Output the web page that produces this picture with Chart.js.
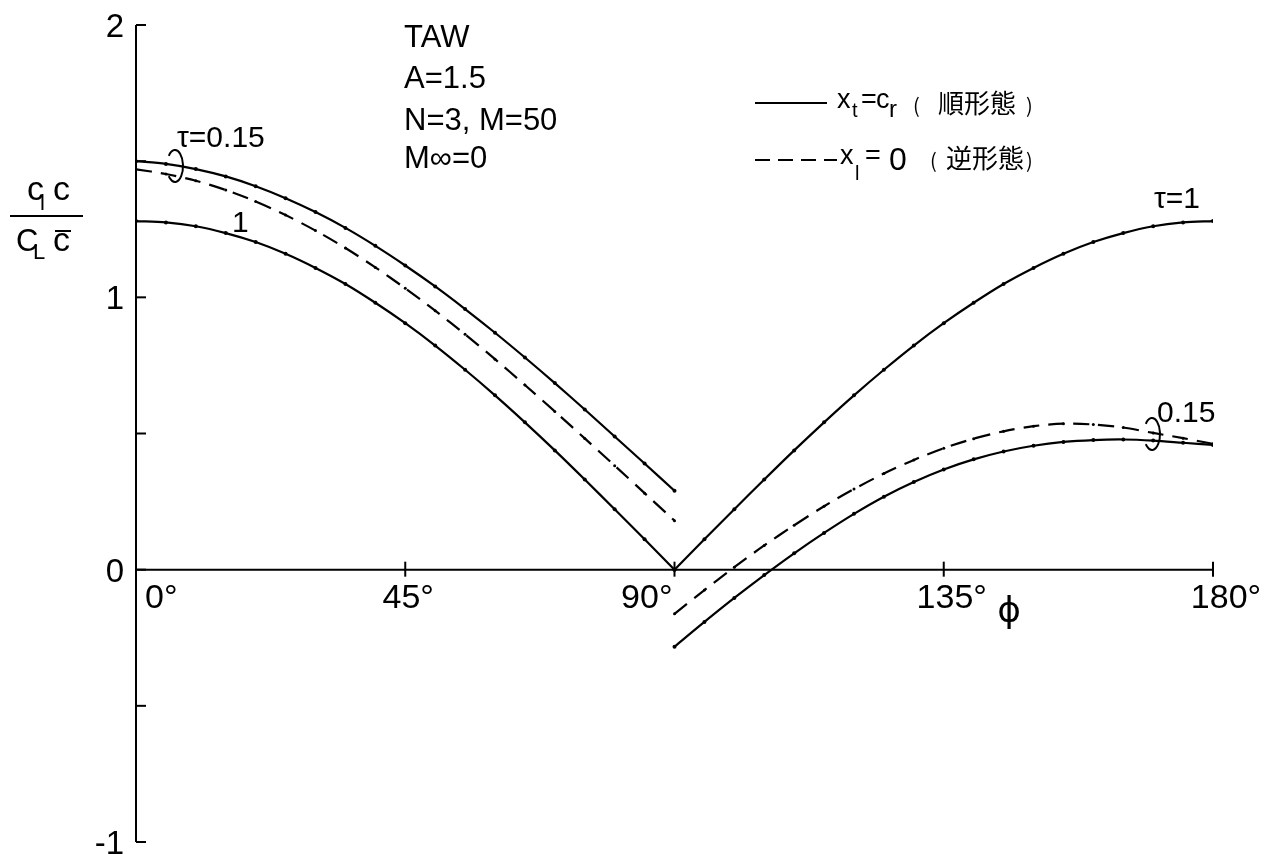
<!DOCTYPE html>
<html>
<head>
<meta charset="utf-8">
<title>TAW spanwise loading</title>
<script src="https://cdn.jsdelivr.net/npm/chart.js@4.4.1/dist/chart.umd.min.js"></script>
<style>
  html, body { margin: 0; padding: 0; background: #fff; }
  canvas { display: block; }
</style>
</head>
<body>
<canvas id="loadChart" width="1271" height="854"></canvas>
<script>
// phi in degrees, two branches split at 90 deg
const phiLeft = [0, 5, 10, 15, 20, 25, 30, 35, 40, 45, 50, 55, 60, 65, 70, 75, 80, 85, 90];
const phiRight = [90, 95, 100, 105, 110, 115, 120, 125, 130, 135, 140, 145, 150, 155, 160, 165, 170, 175, 180];

// tau = 1
const tau1Left = [1.280, 1.275, 1.261, 1.236, 1.203, 1.160, 1.108, 1.049, 0.980, 0.905, 0.823, 0.734, 0.640, 0.541, 0.438, 0.331, 0.222, 0.112, 0.000];
const tau1Right = [0.000, 0.112, 0.222, 0.331, 0.438, 0.541, 0.640, 0.734, 0.823, 0.905, 0.980, 1.049, 1.108, 1.160, 1.203, 1.236, 1.261, 1.275, 1.280];

// tau = 0.15, x_t = c_r (solid)
const tau015SolidLeft = [1.500, 1.490, 1.471, 1.444, 1.408, 1.364, 1.313, 1.255, 1.189, 1.117, 1.040, 0.957, 0.870, 0.779, 0.685, 0.588, 0.489, 0.390, 0.290];
const tau015SolidRight = [-0.283, -0.192, -0.104, -0.020, 0.060, 0.135, 0.205, 0.268, 0.322, 0.368, 0.405, 0.434, 0.455, 0.469, 0.476, 0.478, 0.474, 0.466, 0.458];

// tau = 0.15, x_l = 0 (dashed)
const tau015DashedLeft = [1.470, 1.453, 1.428, 1.394, 1.352, 1.302, 1.245, 1.181, 1.110, 1.033, 0.951, 0.864, 0.773, 0.678, 0.581, 0.482, 0.382, 0.281, 0.180];
const tau015DashedRight = [-0.162, -0.075, 0.009, 0.089, 0.163, 0.233, 0.296, 0.353, 0.403, 0.446, 0.481, 0.508, 0.527, 0.536, 0.533, 0.522, 0.502, 0.483, 0.462];

const xTicks = [0, 45, 90, 135, 180];
const yTicks = [2, 1.5, 1, 0.5, 0, -0.5, -1];
const yTickLabels = ['2', '', '1', '', '0', '', '-1'];

const LATIN = '"Liberation Sans", Arial, sans-serif';
const CJK = '"Noto Sans CJK JP", "Noto Sans CJK SC", sans-serif';
const INK = '#000';

function toPoints(xs, ys) {
    return xs.map((x, i) => ({ x: x, y: ys[i] }));
}

function curve(xs, ys, dashed) {
    return {
        data: toPoints(xs, ys),
        borderColor: INK,
        borderWidth: 2.2,
        borderDash: dashed ? [16, 9] : [],
        pointRadius: dashed ? 1.5 : 2,
        pointBackgroundColor: INK,
        pointBorderWidth: 0,
        tension: 0.3,
        fill: false
    };
}

function text(ctx, str, x, y, size, align, family) {
    ctx.font = size + 'px ' + (family || LATIN);
    ctx.textAlign = align || 'left';
    ctx.textBaseline = 'alphabetic';
    ctx.fillText(str, x, y);
}

function line(ctx, x1, y1, x2, y2, width) {
    ctx.beginPath();
    ctx.lineWidth = width || 2;
    ctx.moveTo(x1, y1);
    ctx.lineTo(x2, y2);
    ctx.stroke();
}

// open-left bracket that groups the two tau=0.15 curves
function bracket(ctx, cx, cy) {
    ctx.beginPath();
    ctx.lineWidth = 2;
    ctx.ellipse(cx, cy, 8, 16, 0, -0.78 * Math.PI, 0.78 * Math.PI);
    ctx.stroke();
}

const paperAxes = {
    id: 'paperAxes',
    beforeDatasetsDraw(chart) {
        const { ctx, scales: { x, y } } = chart;
        ctx.save();
        ctx.strokeStyle = INK;
        ctx.lineCap = 'butt';

        const x0 = x.getPixelForValue(0);
        const y0 = y.getPixelForValue(0);

        // vertical axis with inward ticks
        line(ctx, x0, y.getPixelForValue(2), x0, y.getPixelForValue(-1), 2);
        yTicks.forEach(v => {
            const py = y.getPixelForValue(v);
            line(ctx, x0, py, x0 + 10, py, 2);
        });

        // phi axis along zero
        line(ctx, x0, y0, x.getPixelForValue(180), y0, 2);
        xTicks.slice(1).forEach(v => {
            const px = x.getPixelForValue(v);
            line(ctx, px, y0 - 8, px, y0 + 7, 2);
        });
        ctx.restore();
    },
    afterDraw(chart) {
        const { ctx, scales: { x, y } } = chart;
        ctx.save();
        ctx.fillStyle = INK;
        ctx.strokeStyle = INK;

        // y tick labels
        yTicks.forEach((v, i) => {
            if (!yTickLabels[i]) return;
            const py = y.getPixelForValue(v);
            text(ctx, yTickLabels[i], 124, py + 12, 33, 'right');
        });

        // phi tick labels
        const base = y.getPixelForValue(0) + 38;
        text(ctx, xTicks[0] + '°', x.getPixelForValue(0) + 9, base, 34, 'left');
        text(ctx, xTicks[1] + '°', x.getPixelForValue(45) + 3, base, 34, 'center');
        text(ctx, xTicks[2] + '°', x.getPixelForValue(90) - 2, base, 34, 'right');
        text(ctx, xTicks[3] + '°', x.getPixelForValue(135) + 8, base, 34, 'center');
        text(ctx, xTicks[4] + '°', x.getPixelForValue(180) + 13, base, 34, 'center');
        text(ctx, 'ϕ', 1009, 622, 36, 'center', '"DejaVu Sans", sans-serif');

        // ordinate title  c_l c / C_L c-bar
        text(ctx, 'c', 27, 200, 34);
        text(ctx, 'l', 40, 210, 22);
        text(ctx, 'c', 53, 200, 34);
        line(ctx, 10, 216, 83, 216, 2);
        text(ctx, 'C', 16, 251, 31);
        text(ctx, 'L', 33, 259, 22);
        text(ctx, 'c', 53, 251, 34);
        line(ctx, 55, 231, 71, 231, 2);

        // case block
        text(ctx, 'TAW', 404, 47, 31);
        text(ctx, 'A=1.5', 404, 88, 31);
        text(ctx, 'N=3, M=50', 404, 130, 31);
        text(ctx, 'M∞=0', 404, 168, 31);

        // curve labels
        text(ctx, 'τ=0.15', 177, 147, 30);
        bracket(ctx, 175, 166);
        text(ctx, '1', 232, 232, 30);
        text(ctx, 'τ=1', 1154, 208, 30);
        text(ctx, '0.15', 1157, 422, 30);
        bracket(ctx, 1152, 434);

        // legend: solid x_t = c_r
        line(ctx, 755, 103, 827, 103, 2);
        text(ctx, 'x', 837, 108, 27);
        text(ctx, 't', 852, 117, 20);
        text(ctx, '=', 861, 108, 27);
        text(ctx, 'c', 876, 108, 27);
        text(ctx, 'r', 889, 117, 24);
        text(ctx, '(', 913, 113, 20, 'left', CJK);
        text(ctx, '順形態', 938, 113, 26, 'left', CJK);
        text(ctx, ')', 1026, 113, 20, 'left', CJK);

        // legend: dashed x_l = 0
        ctx.save();
        ctx.setLineDash([15, 8]);
        line(ctx, 755, 160, 837, 160, 2);
        ctx.restore();
        text(ctx, 'x', 840, 164, 27);
        text(ctx, 'l', 855, 180, 20);
        text(ctx, '=', 865, 164, 27);
        text(ctx, '0', 889, 170, 32);
        text(ctx, '(', 930, 168, 20, 'left', CJK);
        text(ctx, '逆形態', 946, 168, 26, 'left', CJK);
        text(ctx, ')', 1026, 168, 20, 'left', CJK);

        ctx.restore();
    }
};

new Chart(document.getElementById('loadChart').getContext('2d'), {
    type: 'line',
    data: {
        datasets: [
            curve(phiLeft, tau1Left, false),
            curve(phiRight, tau1Right, false),
            curve(phiLeft, tau015SolidLeft, false),
            curve(phiRight, tau015SolidRight, false),
            curve(phiLeft, tau015DashedLeft, true),
            curve(phiRight, tau015DashedRight, true)
        ]
    },
    options: {
        responsive: false,
        animation: false,
        layout: { padding: { left: 136, right: 58, top: 25, bottom: 12 } },
        scales: {
            x: { type: 'linear', min: 0, max: 180, display: false },
            y: { type: 'linear', min: -1, max: 2, display: false }
        },
        plugins: {
            legend: { display: false },
            tooltip: { enabled: false }
        }
    },
    plugins: [paperAxes]
});
</script>
</body>
</html>
